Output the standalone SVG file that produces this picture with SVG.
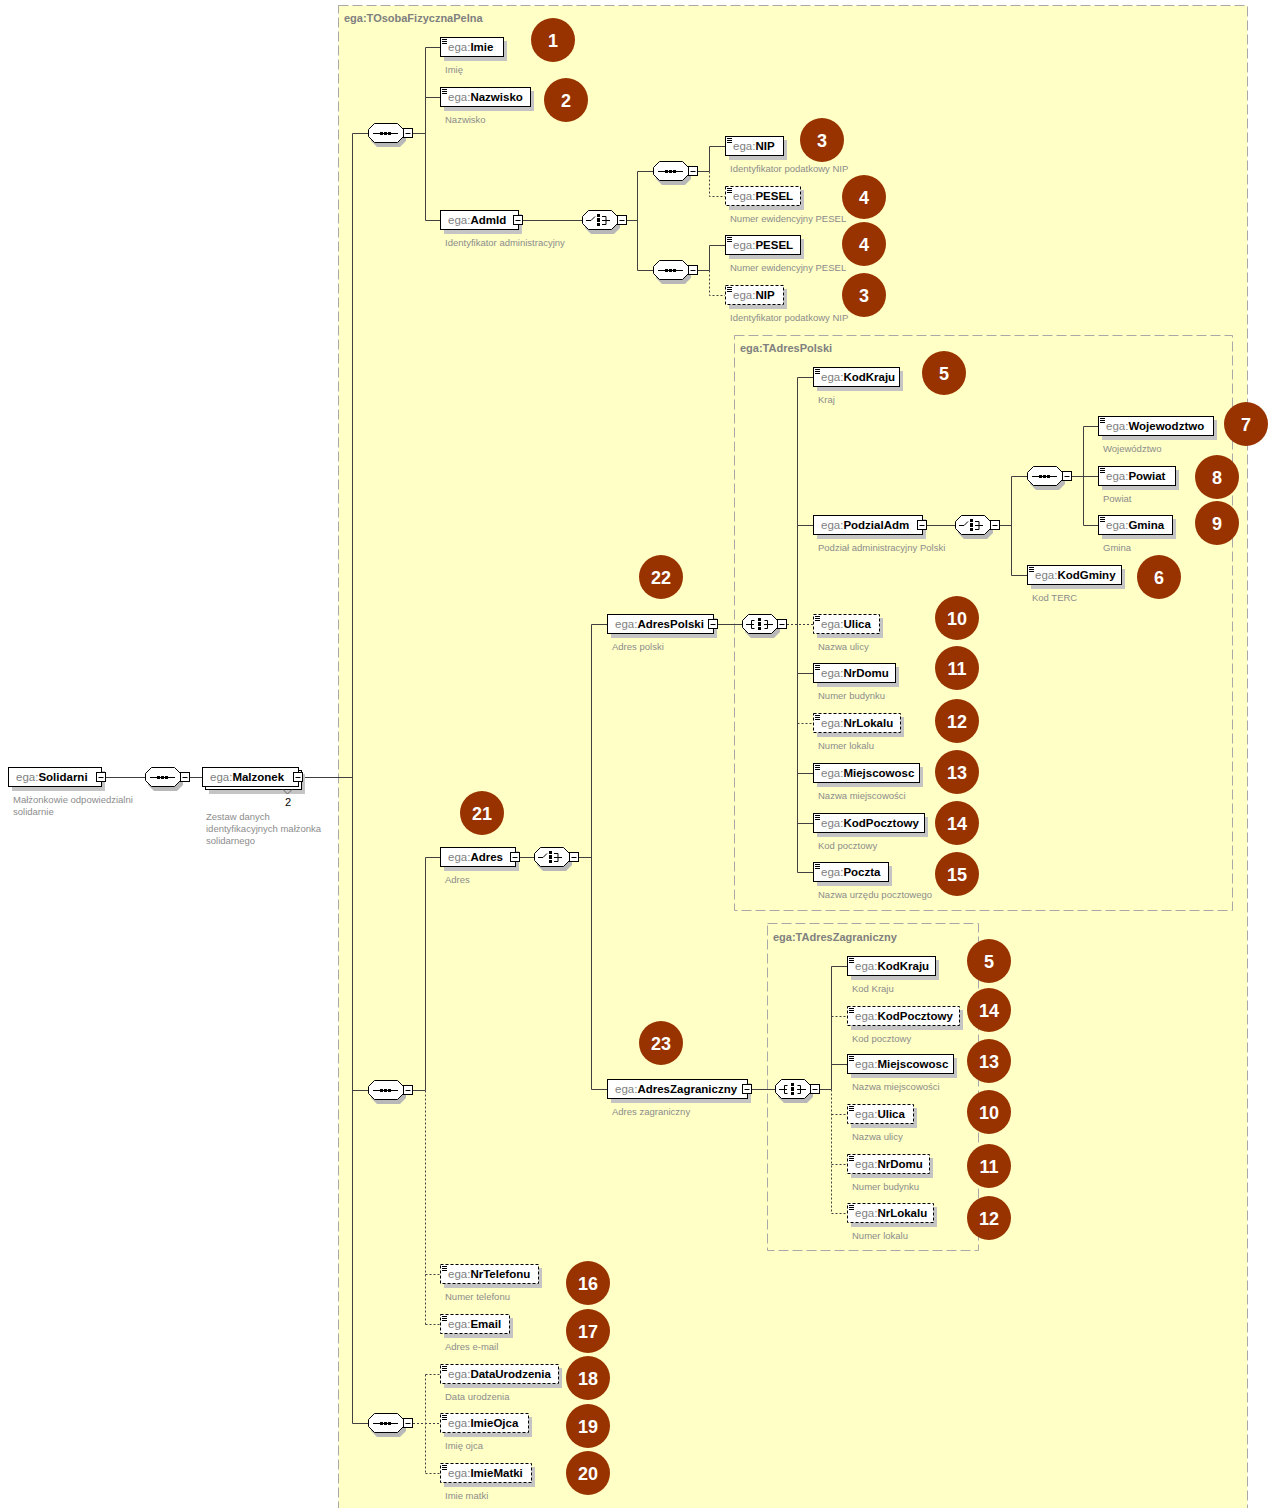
<svg xmlns="http://www.w3.org/2000/svg" xmlns:xlink="http://www.w3.org/1999/xlink" width="1275" height="1508" viewBox="0 0 1275 1508">
<style>
.sh{fill:#c4c4c4}
.bx{fill:#fff;stroke:#000}
.bd{fill:#fff;stroke:#000;stroke-dasharray:3 2}
.t{font-family:"Liberation Sans",Arial,sans-serif;font-size:11.5px}
.ns{fill:#808080}
.nm{fill:#000;font-weight:bold}
.d{font-family:"Liberation Sans",Arial,sans-serif;font-size:9.5px;fill:#8c8c8c}
.c{stroke:#404040;fill:none}
.cd{stroke:#404040;fill:none;stroke-dasharray:2 2}
.ct{fill:#ffffc6;stroke:#a8a8a8;stroke-dasharray:10 4}
.cl{font-family:"Liberation Sans",Arial,sans-serif;font-size:11px;font-weight:bold;fill:#808080}
.mk circle{fill:#983300}
.mk text{font-family:"Liberation Sans",Arial,sans-serif;font-weight:bold;font-size:18px;fill:#fff;text-anchor:middle}
.ic{stroke:#000;fill:none}
</style>
<defs>
<g id="doc"><path d="M2 -7.5h5M2 -5.5h5M2 -3.5h5" stroke="#000"/></g>
<g id="minus"><rect x="-4.5" y="-4.5" width="9" height="9" fill="#fff" stroke="#000"/><path d="M-2.5 0.5h5" stroke="#000"/></g>
<g id="oct">
<polygon points="9,-6 32,-6 38,0 38,8 32,14 9,14 3,8 3,0" fill="#b8b8b8"/>
<polygon points="6.5,-9.5 29.5,-9.5 35.5,-3.5 35.5,3.5 29.5,9.5 6.5,9.5 0.5,3.5 0.5,-3.5" fill="#fff" stroke="#000"/>
<use href="#minus" x="40" y="0"/>
</g>
<g id="seq"><use href="#oct"/><path class="ic" d="M5 0.5h25"/><rect x="12" y="-1" width="3" height="3"/><rect x="16" y="-1" width="3" height="3"/><rect x="20" y="-1" width="3" height="3"/></g>
<g id="cho"><use href="#oct"/><path class="ic" d="M4 0.5h5l4 -4M20 -3.5h4v8h-4M20 0.5h8"/><rect x="15" y="-6" width="3" height="3"/><rect x="15" y="-2" width="3" height="4"/><rect x="15" y="3" width="3" height="3"/></g>
<g id="all"><use href="#oct"/><path class="ic" d="M4 0.5h8M12.5 -3.5h-3v8h3M22.5 -3.5h3v8h-3M22 0.5h9"/><rect x="16" y="-6" width="3" height="3"/><rect x="16" y="-2" width="3" height="4"/><rect x="16" y="3" width="3" height="3"/></g>
</defs>
<rect width="1275" height="1508" fill="#fff"/>
<g id="containers">
<rect class="ct" x="338.5" y="5.5" width="909" height="1510"/>
<text class="cl" x="344" y="22">ega:TOsobaFizycznaPelna</text>
<rect class="ct" x="734.5" y="335.5" width="498" height="575"/>
<text class="cl" x="740" y="352">ega:TAdresPolski</text>
<rect class="ct" x="767.5" y="923.5" width="211" height="327"/>
<text class="cl" x="773" y="941">ega:TAdresZagraniczny</text>
</g>
<g id="connectors">
<path class="c" d="M106 777.5H145M190 777.5H202M303 777.5H352.5M352.5 133.5V1423.5M352.5 133.5H368M352.5 1090.5H368M352.5 1423.5H368"/>
<path class="c" d="M413 133.5H425.5M425.5 47.5V220.5M425.5 47.5H440M425.5 97.5H440M425.5 220.5H440"/>
<path class="c" d="M523 220.5H582M627 220.5H637.5M637.5 171.5V270.5M637.5 171.5H653M637.5 270.5H653"/>
<path class="c" d="M698 171.5H709.5M709.5 146.5V171.5M709.5 146.5H725M698 270.5H709.5M709.5 245.5V270.5M709.5 245.5H725"/>
<path class="cd" d="M709.5 171.5V196.5H725M709.5 270.5V295.5H725"/>
<path class="c" d="M413 1090.5H425.5M425.5 857.5V1090.5M425.5 857.5H440"/>
<path class="cd" d="M425.5 1090.5V1324.5M425.5 1274.5H440M425.5 1324.5H440"/>
<path class="c" d="M520 857.5H534M579 857.5H591.5M591.5 624.5V1089.5M591.5 624.5H607M591.5 1089.5H607"/>
<path class="c" d="M718 624.5H742M797.5 377.5V872.5M797.5 377.5H813M797.5 525.5H813M797.5 673.5H813M797.5 773.5H813M797.5 823.5H813M797.5 872.5H813"/>
<path class="cd" d="M787 624.5H813M797.5 723.5H813"/>
<path class="c" d="M927 525.5H955M1000 525.5H1011.5M1011.5 476.5V575.5M1011.5 476.5H1027M1011.5 575.5H1027"/>
<path class="c" d="M1072 476.5H1083.5M1083.5 426.5V525.5M1083.5 426.5H1098M1083.5 476.5H1098M1083.5 525.5H1098"/>
<path class="c" d="M752 1089.5H775M820 1089.5H831.5M831.5 966.5V1089.5M831.5 966.5H847M831.5 1064.5H847"/>
<path class="cd" d="M831.5 1089.5V1213.5M831.5 1016.5H847M831.5 1114.5H847M831.5 1164.5H847M831.5 1213.5H847"/>
<path class="cd" d="M413 1423.5H440M425.5 1374.5V1473.5M425.5 1374.5H440M425.5 1473.5H440"/>
</g>
<g id="compositors">
<use id="seq-malzonek" href="#seq" x="145" y="777"/>
<use id="seq-1" href="#seq" x="368" y="133"/>
<use id="seq-2" href="#seq" x="368" y="1090"/>
<use id="seq-3" href="#seq" x="368" y="1423"/>
<use id="choice-admid" href="#cho" x="582" y="220"/>
<use id="seq-a" href="#seq" x="653" y="171"/>
<use id="seq-b" href="#seq" x="653" y="270"/>
<use id="choice-adres" href="#cho" x="534" y="857"/>
<use id="all-pl" href="#all" x="742" y="624"/>
<use id="choice-podzial" href="#cho" x="955" y="525"/>
<use id="seq-podzial" href="#seq" x="1027" y="476"/>
<use id="all-za" href="#all" x="775" y="1089"/>
</g>
<g id="n-solidarni" transform="translate(8,777)">
<rect class="sh" x="4" y="-6" width="93" height="20"/><rect class="bx" x="0.5" y="-9.5" width="93" height="19"/>
<text class="t" x="8" y="4"><tspan class="ns">ega:</tspan><tspan class="nm">Solidarni</tspan></text>
<use href="#minus" x="93"/>
<text class="d" x="5" y="26">Małżonkowie odpowiedzialni</text><text class="d" x="5" y="38">solidarnie</text>
</g>
<g id="n-malzonek" transform="translate(202,777)">
<rect class="sh" x="7" y="-3" width="96" height="20"/>
<rect class="bx" x="3.5" y="-6.5" width="96" height="19"/>
<rect class="bx" x="0.5" y="-9.5" width="96" height="19"/>
<text class="t" x="8" y="4"><tspan class="ns">ega:</tspan><tspan class="nm">Malzonek</tspan></text>
<use href="#minus" x="96"/>
<path d="M81 12.5l4.5 4.5l4.5 -4.5" stroke="#666" fill="none"/>
<text class="t" x="86" y="29" text-anchor="middle" style="font-size:11px">2</text>
<text class="d" x="4" y="43">Zestaw danych</text><text class="d" x="4" y="55">identyfikacyjnych małżonka</text><text class="d" x="4" y="67">solidarnego</text>
</g>
<g id="n-imie" transform="translate(440,47)"><rect class="sh" x="4" y="-6" width="63" height="20"/><rect class="bx" x="0.5" y="-9.5" width="63" height="19"/><use href="#doc"/><text class="t" x="8" y="4"><tspan class="ns">ega:</tspan><tspan class="nm">Imie</tspan></text><text class="d" x="5" y="26">Imię</text></g>
<g id="n-nazwisko" transform="translate(440,97)"><rect class="sh" x="4" y="-6" width="90" height="20"/><rect class="bx" x="0.5" y="-9.5" width="90" height="19"/><use href="#doc"/><text class="t" x="8" y="4"><tspan class="ns">ega:</tspan><tspan class="nm">Nazwisko</tspan></text><text class="d" x="5" y="26">Nazwisko</text></g>
<g id="n-admid" transform="translate(440,220)"><rect class="sh" x="4" y="-6" width="78" height="20"/><rect class="bx" x="0.5" y="-9.5" width="78" height="19"/><text class="t" x="8" y="4"><tspan class="ns">ega:</tspan><tspan class="nm">AdmId</tspan></text><use href="#minus" x="78"/><text class="d" x="5" y="26">Identyfikator administracyjny</text></g>
<g id="n-nip1" transform="translate(725,146)"><rect class="sh" x="4" y="-6" width="58" height="20"/><rect class="bx" x="0.5" y="-9.5" width="58" height="19"/><use href="#doc"/><text class="t" x="8" y="4"><tspan class="ns">ega:</tspan><tspan class="nm">NIP</tspan></text><text class="d" x="5" y="26">Identyfikator podatkowy NIP</text></g>
<g id="n-pesel1" transform="translate(725,196)"><rect class="sh" x="4" y="-6" width="75" height="20"/><rect class="bd" x="0.5" y="-9.5" width="75" height="19"/><use href="#doc"/><text class="t" x="8" y="4"><tspan class="ns">ega:</tspan><tspan class="nm">PESEL</tspan></text><text class="d" x="5" y="26">Numer ewidencyjny PESEL</text></g>
<g id="n-pesel2" transform="translate(725,245)"><rect class="sh" x="4" y="-6" width="75" height="20"/><rect class="bx" x="0.5" y="-9.5" width="75" height="19"/><use href="#doc"/><text class="t" x="8" y="4"><tspan class="ns">ega:</tspan><tspan class="nm">PESEL</tspan></text><text class="d" x="5" y="26">Numer ewidencyjny PESEL</text></g>
<g id="n-nip2" transform="translate(725,295)"><rect class="sh" x="4" y="-6" width="58" height="20"/><rect class="bd" x="0.5" y="-9.5" width="58" height="19"/><use href="#doc"/><text class="t" x="8" y="4"><tspan class="ns">ega:</tspan><tspan class="nm">NIP</tspan></text><text class="d" x="5" y="26">Identyfikator podatkowy NIP</text></g>
<g id="n-adres" transform="translate(440,857)"><rect class="sh" x="4" y="-6" width="75" height="20"/><rect class="bx" x="0.5" y="-9.5" width="75" height="19"/><text class="t" x="8" y="4"><tspan class="ns">ega:</tspan><tspan class="nm">Adres</tspan></text><use href="#minus" x="75"/><text class="d" x="5" y="26">Adres</text></g>
<g id="n-adrespolski" transform="translate(607,624)"><rect class="sh" x="4" y="-6" width="106" height="20"/><rect class="bx" x="0.5" y="-9.5" width="106" height="19"/><text class="t" x="8" y="4"><tspan class="ns">ega:</tspan><tspan class="nm">AdresPolski</tspan></text><use href="#minus" x="106"/><text class="d" x="5" y="26">Adres polski</text></g>
<g id="n-adreszagraniczny" transform="translate(607,1089)"><rect class="sh" x="4" y="-6" width="140" height="20"/><rect class="bx" x="0.5" y="-9.5" width="140" height="19"/><text class="t" x="8" y="4"><tspan class="ns">ega:</tspan><tspan class="nm">AdresZagraniczny</tspan></text><use href="#minus" x="140"/><text class="d" x="5" y="26">Adres zagraniczny</text></g>
<g id="n-pl-kodkraju" transform="translate(813,377)"><rect class="sh" x="4" y="-6" width="86" height="20"/><rect class="bx" x="0.5" y="-9.5" width="86" height="19"/><use href="#doc"/><text class="t" x="8" y="4"><tspan class="ns">ega:</tspan><tspan class="nm">KodKraju</tspan></text><text class="d" x="5" y="26">Kraj</text></g>
<g id="n-podzialadm" transform="translate(813,525)"><rect class="sh" x="4" y="-6" width="109" height="20"/><rect class="bx" x="0.5" y="-9.5" width="109" height="19"/><text class="t" x="8" y="4"><tspan class="ns">ega:</tspan><tspan class="nm">PodzialAdm</tspan></text><use href="#minus" x="109"/><text class="d" x="5" y="26">Podział administracyjny Polski</text></g>
<g id="n-wojewodztwo" transform="translate(1098,426)"><rect class="sh" x="4" y="-6" width="115" height="20"/><rect class="bx" x="0.5" y="-9.5" width="115" height="19"/><use href="#doc"/><text class="t" x="8" y="4"><tspan class="ns">ega:</tspan><tspan class="nm">Wojewodztwo</tspan></text><text class="d" x="5" y="26">Województwo</text></g>
<g id="n-powiat" transform="translate(1098,476)"><rect class="sh" x="4" y="-6" width="77" height="20"/><rect class="bx" x="0.5" y="-9.5" width="77" height="19"/><use href="#doc"/><text class="t" x="8" y="4"><tspan class="ns">ega:</tspan><tspan class="nm">Powiat</tspan></text><text class="d" x="5" y="26">Powiat</text></g>
<g id="n-gmina" transform="translate(1098,525)"><rect class="sh" x="4" y="-6" width="74" height="20"/><rect class="bx" x="0.5" y="-9.5" width="74" height="19"/><use href="#doc"/><text class="t" x="8" y="4"><tspan class="ns">ega:</tspan><tspan class="nm">Gmina</tspan></text><text class="d" x="5" y="26">Gmina</text></g>
<g id="n-kodgminy" transform="translate(1027,575)"><rect class="sh" x="4" y="-6" width="94" height="20"/><rect class="bx" x="0.5" y="-9.5" width="94" height="19"/><use href="#doc"/><text class="t" x="8" y="4"><tspan class="ns">ega:</tspan><tspan class="nm">KodGminy</tspan></text><text class="d" x="5" y="26">Kod TERC</text></g>
<g id="n-pl-ulica" transform="translate(813,624)"><rect class="sh" x="4" y="-6" width="66" height="20"/><rect class="bd" x="0.5" y="-9.5" width="66" height="19"/><use href="#doc"/><text class="t" x="8" y="4"><tspan class="ns">ega:</tspan><tspan class="nm">Ulica</tspan></text><text class="d" x="5" y="26">Nazwa ulicy</text></g>
<g id="n-pl-nrdomu" transform="translate(813,673)"><rect class="sh" x="4" y="-6" width="82" height="20"/><rect class="bx" x="0.5" y="-9.5" width="82" height="19"/><use href="#doc"/><text class="t" x="8" y="4"><tspan class="ns">ega:</tspan><tspan class="nm">NrDomu</tspan></text><text class="d" x="5" y="26">Numer budynku</text></g>
<g id="n-pl-nrlokalu" transform="translate(813,723)"><rect class="sh" x="4" y="-6" width="87" height="20"/><rect class="bd" x="0.5" y="-9.5" width="87" height="19"/><use href="#doc"/><text class="t" x="8" y="4"><tspan class="ns">ega:</tspan><tspan class="nm">NrLokalu</tspan></text><text class="d" x="5" y="26">Numer lokalu</text></g>
<g id="n-pl-miejscowosc" transform="translate(813,773)"><rect class="sh" x="4" y="-6" width="106" height="20"/><rect class="bx" x="0.5" y="-9.5" width="106" height="19"/><use href="#doc"/><text class="t" x="8" y="4"><tspan class="ns">ega:</tspan><tspan class="nm">Miejscowosc</tspan></text><text class="d" x="5" y="26">Nazwa miejscowości</text></g>
<g id="n-pl-kodpocztowy" transform="translate(813,823)"><rect class="sh" x="4" y="-6" width="111" height="20"/><rect class="bx" x="0.5" y="-9.5" width="111" height="19"/><use href="#doc"/><text class="t" x="8" y="4"><tspan class="ns">ega:</tspan><tspan class="nm">KodPocztowy</tspan></text><text class="d" x="5" y="26">Kod pocztowy</text></g>
<g id="n-pl-poczta" transform="translate(813,872)"><rect class="sh" x="4" y="-6" width="75" height="20"/><rect class="bx" x="0.5" y="-9.5" width="75" height="19"/><use href="#doc"/><text class="t" x="8" y="4"><tspan class="ns">ega:</tspan><tspan class="nm">Poczta</tspan></text><text class="d" x="5" y="26">Nazwa urzędu pocztowego</text></g>
<g id="n-za-kodkraju" transform="translate(847,966)"><rect class="sh" x="4" y="-6" width="88" height="20"/><rect class="bx" x="0.5" y="-9.5" width="88" height="19"/><use href="#doc"/><text class="t" x="8" y="4"><tspan class="ns">ega:</tspan><tspan class="nm">KodKraju</tspan></text><text class="d" x="5" y="26">Kod Kraju</text></g>
<g id="n-za-kodpocztowy" transform="translate(847,1016)"><rect class="sh" x="4" y="-6" width="112" height="20"/><rect class="bd" x="0.5" y="-9.5" width="112" height="19"/><use href="#doc"/><text class="t" x="8" y="4"><tspan class="ns">ega:</tspan><tspan class="nm">KodPocztowy</tspan></text><text class="d" x="5" y="26">Kod pocztowy</text></g>
<g id="n-za-miejscowosc" transform="translate(847,1064)"><rect class="sh" x="4" y="-6" width="106" height="20"/><rect class="bx" x="0.5" y="-9.5" width="106" height="19"/><use href="#doc"/><text class="t" x="8" y="4"><tspan class="ns">ega:</tspan><tspan class="nm">Miejscowosc</tspan></text><text class="d" x="5" y="26">Nazwa miejscowości</text></g>
<g id="n-za-ulica" transform="translate(847,1114)"><rect class="sh" x="4" y="-6" width="66" height="20"/><rect class="bd" x="0.5" y="-9.5" width="66" height="19"/><use href="#doc"/><text class="t" x="8" y="4"><tspan class="ns">ega:</tspan><tspan class="nm">Ulica</tspan></text><text class="d" x="5" y="26">Nazwa ulicy</text></g>
<g id="n-za-nrdomu" transform="translate(847,1164)"><rect class="sh" x="4" y="-6" width="82" height="20"/><rect class="bd" x="0.5" y="-9.5" width="82" height="19"/><use href="#doc"/><text class="t" x="8" y="4"><tspan class="ns">ega:</tspan><tspan class="nm">NrDomu</tspan></text><text class="d" x="5" y="26">Numer budynku</text></g>
<g id="n-za-nrlokalu" transform="translate(847,1213)"><rect class="sh" x="4" y="-6" width="86" height="20"/><rect class="bd" x="0.5" y="-9.5" width="86" height="19"/><use href="#doc"/><text class="t" x="8" y="4"><tspan class="ns">ega:</tspan><tspan class="nm">NrLokalu</tspan></text><text class="d" x="5" y="26">Numer lokalu</text></g>
<g id="n-nrtelefonu" transform="translate(440,1274)"><rect class="sh" x="4" y="-6" width="98" height="20"/><rect class="bd" x="0.5" y="-9.5" width="98" height="19"/><use href="#doc"/><text class="t" x="8" y="4"><tspan class="ns">ega:</tspan><tspan class="nm">NrTelefonu</tspan></text><text class="d" x="5" y="26">Numer telefonu</text></g>
<g id="n-email" transform="translate(440,1324)"><rect class="sh" x="4" y="-6" width="69" height="20"/><rect class="bd" x="0.5" y="-9.5" width="69" height="19"/><use href="#doc"/><text class="t" x="8" y="4"><tspan class="ns">ega:</tspan><tspan class="nm">Email</tspan></text><text class="d" x="5" y="26">Adres e-mail</text></g>
<g id="n-dataurodzenia" transform="translate(440,1374)"><rect class="sh" x="4" y="-6" width="118" height="20"/><rect class="bd" x="0.5" y="-9.5" width="118" height="19"/><use href="#doc"/><text class="t" x="8" y="4"><tspan class="ns">ega:</tspan><tspan class="nm">DataUrodzenia</tspan></text><text class="d" x="5" y="26">Data urodzenia</text></g>
<g id="n-imieojca" transform="translate(440,1423)"><rect class="sh" x="4" y="-6" width="88" height="20"/><rect class="bd" x="0.5" y="-9.5" width="88" height="19"/><use href="#doc"/><text class="t" x="8" y="4"><tspan class="ns">ega:</tspan><tspan class="nm">ImieOjca</tspan></text><text class="d" x="5" y="26">Imię ojca</text></g>
<g id="n-imiematki" transform="translate(440,1473)"><rect class="sh" x="4" y="-6" width="91" height="20"/><rect class="bd" x="0.5" y="-9.5" width="91" height="19"/><use href="#doc"/><text class="t" x="8" y="4"><tspan class="ns">ega:</tspan><tspan class="nm">ImieMatki</tspan></text><text class="d" x="5" y="26">Imie matki</text></g>
<g id="markers" class="mk">
<g><circle cx="553" cy="40" r="22"/><text x="553" y="47">1</text></g>
<g><circle cx="566" cy="100" r="22"/><text x="566" y="107">2</text></g>
<g><circle cx="822" cy="140" r="22"/><text x="822" y="147">3</text></g>
<g><circle cx="864" cy="197" r="22"/><text x="864" y="204">4</text></g>
<g><circle cx="864" cy="244" r="22"/><text x="864" y="251">4</text></g>
<g><circle cx="864" cy="295" r="22"/><text x="864" y="302">3</text></g>
<g><circle cx="944" cy="373" r="22"/><text x="944" y="380">5</text></g>
<g><circle cx="1246" cy="424" r="22"/><text x="1246" y="431">7</text></g>
<g><circle cx="1217" cy="477" r="22"/><text x="1217" y="484">8</text></g>
<g><circle cx="1217" cy="523" r="22"/><text x="1217" y="530">9</text></g>
<g><circle cx="1159" cy="577" r="22"/><text x="1159" y="584">6</text></g>
<g><circle cx="661" cy="577" r="22"/><text x="661" y="584">22</text></g>
<g><circle cx="957" cy="618" r="22"/><text x="957" y="625">10</text></g>
<g><circle cx="957" cy="668" r="22"/><text x="957" y="675">11</text></g>
<g><circle cx="957" cy="721" r="22"/><text x="957" y="728">12</text></g>
<g><circle cx="957" cy="772" r="22"/><text x="957" y="779">13</text></g>
<g><circle cx="957" cy="823" r="22"/><text x="957" y="830">14</text></g>
<g><circle cx="957" cy="874" r="22"/><text x="957" y="881">15</text></g>
<g><circle cx="482" cy="813" r="22"/><text x="482" y="820">21</text></g>
<g><circle cx="989" cy="961" r="22"/><text x="989" y="968">5</text></g>
<g><circle cx="989" cy="1010" r="22"/><text x="989" y="1017">14</text></g>
<g><circle cx="989" cy="1061" r="22"/><text x="989" y="1068">13</text></g>
<g><circle cx="661" cy="1043" r="22"/><text x="661" y="1050">23</text></g>
<g><circle cx="989" cy="1112" r="22"/><text x="989" y="1119">10</text></g>
<g><circle cx="989" cy="1166" r="22"/><text x="989" y="1173">11</text></g>
<g><circle cx="989" cy="1218" r="22"/><text x="989" y="1225">12</text></g>
<g><circle cx="588" cy="1283" r="22"/><text x="588" y="1290">16</text></g>
<g><circle cx="588" cy="1331" r="22"/><text x="588" y="1338">17</text></g>
<g><circle cx="588" cy="1378" r="22"/><text x="588" y="1385">18</text></g>
<g><circle cx="588" cy="1426" r="22"/><text x="588" y="1433">19</text></g>
<g><circle cx="588" cy="1473" r="22"/><text x="588" y="1480">20</text></g>
</g>
</svg>
